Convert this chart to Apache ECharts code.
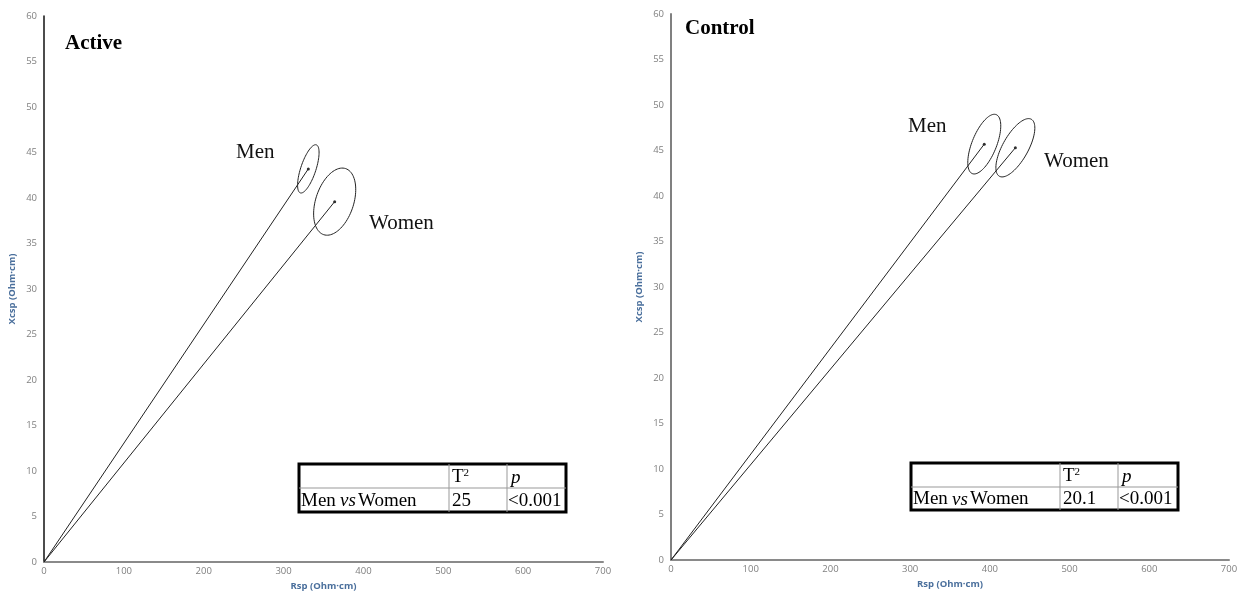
<!DOCTYPE html>
<html><head><meta charset="utf-8">
<script src="https://cdn.jsdelivr.net/npm/echarts@6/dist/echarts.min.js"></script>
<style>html,body{margin:0;padding:0;background:#fff}#c{width:1247px;height:592px}</style>
</head><body><div id="c"></div>
<script>
// ---- data ----
const panelTitles = ['Active', 'Control'];
const groupNames = ['Men', 'Women'];
const xTicks = [0, 100, 200, 300, 400, 500, 600, 700];
const yTicks = [0, 5, 10, 15, 20, 25, 30, 35, 40, 45, 50, 55, 60];
const xAxisName = 'Rsp (Ohm\u00b7cm)';
const yAxisName = 'Xcsp (Ohm\u00b7cm)';
// mean vectors [Rsp, Xcsp]
const activeMeans = [[331, 43.2], [364, 39.6]];
const controlMeans = [[393, 45.7], [432, 45.3]];
// confidence ellipse half-axis vectors in data units [ux, uy, vx, vy]
const activeEllipseAxes = [[10, 2.64, 9.0, -0.26], [13.75, 3.63, 22.5, -0.66]];
const controlEllipseAxes = [[15.06, 3.24, 14.18, -0.51], [20.08, 3.13, 13.93, -0.69]];
// Hotelling T2 tables
const tableHeader = ['', 'T', 'p'];
const tableRowLabel = 'Men vs Women';
const activeT2 = '25', activeP = '<0.001';
const controlT2 = '20.1', controlP = '<0.001';

const chart = echarts.init(document.getElementById('c'));
const serif = '"Liberation Serif", "DejaVu Serif", serif';
const sans = '"Open Sans", "Liberation Sans", sans-serif';

function xAxisCfg(gi, gap){
  return {gridIndex: gi, type: 'value', min: xTicks[0], max: xTicks[xTicks.length - 1], interval: xTicks[1] - xTicks[0],
    name: xAxisName, nameLocation: 'middle', nameGap: gap,
    nameTextStyle: {color: '#4a6f9c', fontSize: 9.5, fontWeight: 'bold', fontFamily: sans},
    axisLine: {lineStyle: {color: '#8a8a8a', width: 2}},
    axisTick: {show: false}, splitLine: {show: false},
    axisLabel: {color: '#808080', fontSize: 9.5, margin: 4, fontFamily: sans}};
}
function yAxisCfg(gi, color, w){
  return {gridIndex: gi, type: 'value', min: yTicks[0], max: yTicks[yTicks.length - 1], interval: yTicks[1] - yTicks[0],
    name: yAxisName, nameLocation: 'middle', nameGap: 27,
    nameTextStyle: {color: '#4a6f9c', fontSize: 9.5, fontWeight: 'bold', fontFamily: sans},
    axisLine: {show: true, lineStyle: {color: color, width: w}},
    axisTick: {show: false}, splitLine: {show: false},
    axisLabel: {color: '#808080', fontSize: 9.5, margin: 7, fontFamily: sans}};
}

function ellipseSeries(gi, means, axes){
  const data = means.map((m, i) => [m[0], m[1]].concat(axes[i]));
  return {type: 'custom', xAxisIndex: gi, yAxisIndex: gi, silent: true, clip: false,
    encode: {x: 0, y: 1},
    data: data,
    renderItem: function(params, api){
      const cx = api.value(0), cy = api.value(1);
      const ux = api.value(2), uy = api.value(3), vx = api.value(4), vy = api.value(5);
      const pts = [];
      for (let k = 0; k < 90; k++){
        const t = k / 90 * Math.PI * 2;
        pts.push(api.coord([cx + Math.cos(t) * ux + Math.sin(t) * vx, cy + Math.cos(t) * uy + Math.sin(t) * vy]));
      }
      return {type: 'polygon', shape: {points: pts}, style: {fill: 'none', stroke: '#222', lineWidth: 1}};
    }};
}
function vectorSeries(gi, means){
  return means.map(m => ({type: 'line', xAxisIndex: gi, yAxisIndex: gi, silent: true,
    data: [[0, 0], m], symbol: 'none', lineStyle: {color: '#222', width: 1}, animation: false}));
}
function pointSeries(gi, means){
  return {type: 'scatter', xAxisIndex: gi, yAxisIndex: gi, data: means, symbolSize: 3,
    itemStyle: {color: '#000'}, silent: true};
}

function table(x0, y0, x1, y1, c1, c2, rowY, t2, p){
  const els = [];
  els.push({type: 'rect', shape: {x: x0, y: y0, width: x1 - x0, height: y1 - y0}, style: {fill: '#fff', stroke: '#000', lineWidth: 3}, z: 10});
  els.push({type: 'line', shape: {x1: x0, y1: rowY, x2: x1, y2: rowY}, style: {stroke: '#999', lineWidth: 1}, z: 11});
  els.push({type: 'line', shape: {x1: c1, y1: y0, x2: c1, y2: y1}, style: {stroke: '#999', lineWidth: 1}, z: 11});
  els.push({type: 'line', shape: {x1: c2, y1: y0, x2: c2, y2: y1}, style: {stroke: '#999', lineWidth: 1}, z: 11});
  const f = {fontFamily: serif, fontSize: 19, fill: '#000'};
  els.push({type: 'text', x: c1 + 3, y: (y0 + rowY) / 2 + 1, z: 12,
    style: Object.assign({}, f, {text: '{a|' + tableHeader[1] + '}{s|2}', verticalAlign: 'middle',
      rich: {a: {fontFamily: serif, fontSize: 19}, s: {fontFamily: serif, fontSize: 11, verticalAlign: 'top', padding: [0, 0, 8, 0]}}})});
  els.push({type: 'text', x: c2 + 4, y: (y0 + rowY) / 2 + 2, z: 12,
    style: Object.assign({}, f, {text: tableHeader[2], fontStyle: 'italic', verticalAlign: 'middle'})});
  const words = tableRowLabel.split(' ');
  const my = (rowY + y1) / 2 + 1;
  els.push({type: 'text', x: x0 + 2, y: my, z: 12, style: Object.assign({}, f, {text: words[0], verticalAlign: 'middle'})});
  els.push({type: 'text', x: x0 + 41, y: my, z: 12, style: Object.assign({}, f, {text: words[1], fontStyle: 'italic', verticalAlign: 'middle'})});
  els.push({type: 'text', x: x0 + 59, y: my, z: 12, style: Object.assign({}, f, {text: words[2], verticalAlign: 'middle', fontSize: 19})});
  els.push({type: 'text', x: c1 + 3, y: my, z: 12, style: Object.assign({}, f, {text: t2, verticalAlign: 'middle'})});
  els.push({type: 'text', x: c2 + 1, y: my, z: 12, style: Object.assign({}, f, {text: p, verticalAlign: 'middle'})});
  return els;
}

const titleStyle = {fontFamily: serif, fontSize: 21, fontWeight: 'bold', fill: '#000'};
const lblStyle = {fontFamily: serif, fontSize: 21, fill: '#111'};

chart.setOption({
  animation: false,
  grid: [
    {left: 44, top: 16, right: 644, bottom: 30, containLabel: false, outerBoundsMode: 'none'},
    {left: 671, top: 14, right: 18, bottom: 32, containLabel: false, outerBoundsMode: 'none'}
  ],
  xAxis: [xAxisCfg(0, 18), xAxisCfg(1, 19)],
  yAxis: [yAxisCfg(0, '#111', 1.5), yAxisCfg(1, '#808080', 2)],
  series: [].concat(
    vectorSeries(0, activeMeans), [pointSeries(0, activeMeans), ellipseSeries(0, activeMeans, activeEllipseAxes)],
    vectorSeries(1, controlMeans), [pointSeries(1, controlMeans), ellipseSeries(1, controlMeans, controlEllipseAxes)]
  ),
  graphic: [
    {type: 'text', x: 65, y: 33, style: Object.assign({}, titleStyle, {text: panelTitles[0]})},
    {type: 'text', x: 685, y: 18, style: Object.assign({}, titleStyle, {text: panelTitles[1]})},
    {type: 'text', x: 236, y: 142, style: Object.assign({}, lblStyle, {text: groupNames[0]})},
    {type: 'text', x: 369, y: 213, style: Object.assign({}, lblStyle, {text: groupNames[1]})},
    {type: 'text', x: 908, y: 116, style: Object.assign({}, lblStyle, {text: groupNames[0]})},
    {type: 'text', x: 1044, y: 151, style: Object.assign({}, lblStyle, {text: groupNames[1]})}
  ].concat(
    table(299, 464, 566, 512, 449, 507, 488, activeT2, activeP),
    table(911, 463, 1178, 510, 1060, 1118, 487, controlT2, controlP)
  )
});
</script>
</body></html>
